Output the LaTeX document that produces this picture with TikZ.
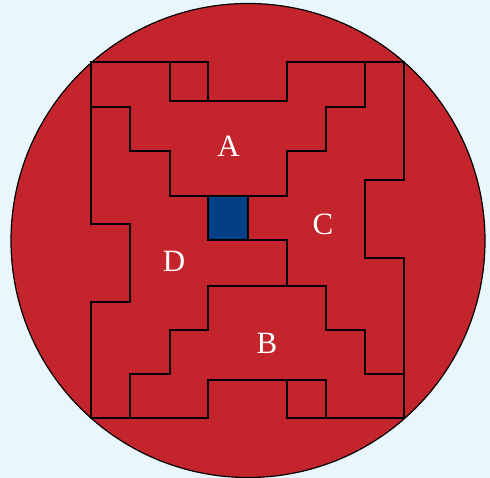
\documentclass[tikz,border=0pt]{standalone}
\usepackage{fontspec}
\setmainfont{Liberation Serif}
\definecolor{skyback}{HTML}{EAF6FD}
\definecolor{discred}{HTML}{C4252C}
\definecolor{coreblue}{HTML}{023F86}
\begin{document}
\begin{tikzpicture}[x=1pt,y=-1pt,line join=miter,
  piece/.style={draw=black,line width=2pt},
  letter/.style={text=white,inner sep=0pt,font=\fontsize{31}{31}\selectfont}]

  % background, fixes the size
  \fill[skyback] (0,0) rectangle (490,478);
  \useasboundingbox (0,0) rectangle (490,478);

  % draw the red disc
  \filldraw[fill=discred,draw=black,line width=1.2pt] (248,240.5) circle(237);

  % blue centre square
  \filldraw[fill=coreblue,piece] (208,196) rectangle (248,240);

  % piece A (top)
  \draw[piece] (91,62) -- (170,62) -- (170,101) -- (287,101) -- (287,62) -- (365,62)
    -- (365,107) -- (326,107) -- (326,151) -- (287,151) -- (287,196) -- (170,196)
    -- (170,151) -- (130,151) -- (130,107) -- (91,107) -- cycle;

  % piece B (bottom)
  \draw[piece] (404,418) -- (326,418) -- (326,380) -- (208,380) -- (208,418) -- (130,418)
    -- (130,374) -- (170,374) -- (170,330) -- (208,330) -- (208,286) -- (326,286)
    -- (326,330) -- (365,330) -- (365,374) -- (404,374) -- cycle;

  % piece C (right)
  \draw[piece] (365,62) -- (404,62) -- (404,180) -- (365,180) -- (365,258) -- (404,258)
    -- (404,374) -- (365,374) -- (365,330) -- (326,330) -- (326,286) -- (287,286)
    -- (287,240) -- (248,240) -- (248,196) -- (287,196) -- (287,151) -- (326,151)
    -- (326,107) -- (365,107) -- cycle;

  % piece D (left)
  \draw[piece] (91,107) -- (130,107) -- (130,151) -- (170,151) -- (170,196) -- (208,196)
    -- (208,240) -- (287,240) -- (287,286) -- (208,286) -- (208,330) -- (170,330)
    -- (170,374) -- (130,374) -- (130,418) -- (91,418) -- (91,302) -- (130,302)
    -- (130,224) -- (91,224) -- cycle;

  % the two small squares
  \draw[piece] (170,62) rectangle (208,101);
  \draw[piece] (287,380) rectangle (326,418);

  % piece labels
  \node[letter] (labA) at (228.5,146) {A};
  \node[letter] (labB) at (267,343) {B};
  \node[letter] (labC) at (323,224) {C};
  \node[letter] (labD) at (174,261) {D};

\end{tikzpicture}
\end{document}
